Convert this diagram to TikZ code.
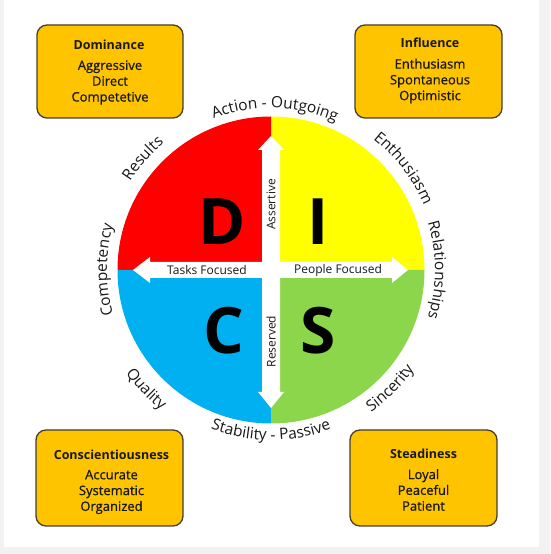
\documentclass[tikz,border=0pt]{standalone}
\usepackage{fontspec}
\setmainfont{Open Sans}
\newfontfamily\medfont[FakeBold=0.8]{Open Sans}
\usetikzlibrary{decorations.text}
\definecolor{qred}{RGB}{255,0,0}
\definecolor{qyellow}{RGB}{255,255,0}
\definecolor{qblue}{RGB}{0,176,240}
\definecolor{qgreen}{RGB}{140,214,76}
\definecolor{boxfill}{RGB}{255,196,0}
\definecolor{boxline}{RGB}{70,62,45}
\definecolor{txt}{RGB}{25,25,25}
\definecolor{margin}{RGB}{242,242,242}
\newcommand\ringfont{\fontsize{15.5}{18}\selectfont}
\begin{document}
\begin{tikzpicture}[x=1pt,y=1pt,
  infobox/.style={draw=boxline, line width=1.3pt, fill=boxfill, rounded corners=10pt, inner sep=0pt},
  boxtitle/.style={font=\fontsize{12.5}{15}\selectfont\bfseries, text=txt, inner sep=0pt},
  boxbody/.style={font=\medfont\fontsize{13}{15.8}\selectfont, text=txt, align=center, inner sep=0pt},
  bigletter/.style={font=\fontsize{64}{64}\selectfont\bfseries, text=black, inner sep=0pt},
  arrowlabel/.style={font=\fontsize{12}{14}\selectfont, text=txt, inner sep=0pt},
  ringtext/.style={decorate, decoration={text along path, text align=center, text color=txt, text={|\ringfont|#1}}}
]
\useasboundingbox (0,0) rectangle (550,554);
\fill[margin] (0,0) rectangle (550,554);
\fill[white] (4,7) rectangle (539,554);

% circle quadrants
\coordinate (c0) at (271,284);
\fill[qyellow] (c0) -- ++(0:153.5) arc[start angle=0, end angle=90, radius=153.5] -- cycle;
\fill[qred] (c0) -- ++(90:153.5) arc[start angle=90, end angle=180, radius=153.5] -- cycle;
\fill[qblue] (c0) -- ++(180:153.5) arc[start angle=180, end angle=270, radius=153.5] -- cycle;
\fill[qgreen] (c0) -- ++(270:153.5) arc[start angle=270, end angle=360, radius=153.5] -- cycle;

% white double arrows
\fill[white] (271,418) -- (284,404) -- (280,404) -- (280,162) -- (284,162) -- (271,146)
  -- (258,162) -- (262,162) -- (262,404) -- (258,404) -- cycle;
\fill[white] (133,284) -- (150,297) -- (150,292) -- (392,292) -- (392,297) -- (408,284)
  -- (392,271) -- (392,276) -- (150,276) -- (150,271) -- cycle;

% letters
\node[bigletter] (letD) at (222,332) {D};
\node[bigletter] (letI) at (318,332) {I};
\node[bigletter] (letC) at (224,223) {C};
\node[bigletter] (letS) at (318,223) {S};

% arrow labels
\node[arrowlabel] (tasks) at (207,284) {Tasks Focused};
\node[arrowlabel] (people) at (338,284) {People Focused};
\node[arrowlabel, rotate=90] (assert) at (271,349.5) {Assertive};
\node[arrowlabel, rotate=90] (reserv) at (271,212.5) {Reserved};

% ring labels (top: clockwise)
\path[ringtext={Results}] (c0) ++(179:166) arc[start angle=179, end angle=99, radius=166];
\path[ringtext={Action - Outgoing}] (c0) ++(148.6:162) arc[start angle=148.6, end angle=28.6, radius=162];
\path[ringtext={Enthusiasm}] (c0) ++(87.5:166) arc[start angle=87.5, end angle=-12.5, radius=166];
\path[ringtext={Relationships}] (c0) ++(60:164) arc[start angle=60, end angle=-60, radius=164];
\path[ringtext={Competency}] (c0) ++(240:164) arc[start angle=240, end angle=120, radius=164];
% ring labels (bottom: counter-clockwise)
\path[ringtext={Quality}] (c0) ++(183.6:178) arc[start angle=183.6, end angle=263.6, radius=178];
\path[ringtext={Stability - Passive}] (c0) ++(210:170) arc[start angle=210, end angle=330, radius=170];
\path[ringtext={Sincerity}] (c0) ++(275.2:174) arc[start angle=275.2, end angle=355.2, radius=174];

% boxes
\node[infobox, minimum width=146pt, minimum height=93pt] (dbox) at (110,482.5) {};
\node[boxtitle] (dtitle) at (109,509) {Dominance};
\node[boxbody] (dbody) at (110,471.5) {Aggressive\\Direct\\Competetive};

\node[infobox, minimum width=147pt, minimum height=93pt] (ibox) at (428.5,482.5) {};
\node[boxtitle] (ititle) at (430,511) {Influence};
\node[boxbody] (ibody) at (430,473) {Enthusiasm\\Spontaneous\\Optimistic};

\node[infobox, minimum width=147pt, minimum height=96pt] (cbox) at (109.5,76) {};
\node[boxtitle] (ctitle) at (111.5,99) {Conscientiousness};
\node[boxbody] (cbody) at (111.5,62) {Accurate\\Systematic\\Organized};

\node[infobox, minimum width=147pt, minimum height=96pt] (sbox) at (423.5,76) {};
\node[boxtitle] (stitle) at (423.5,100) {Steadiness};
\node[boxbody] (sbody) at (423.5,64) {Loyal\\Peaceful\\Patient};
\end{tikzpicture}
\end{document}
